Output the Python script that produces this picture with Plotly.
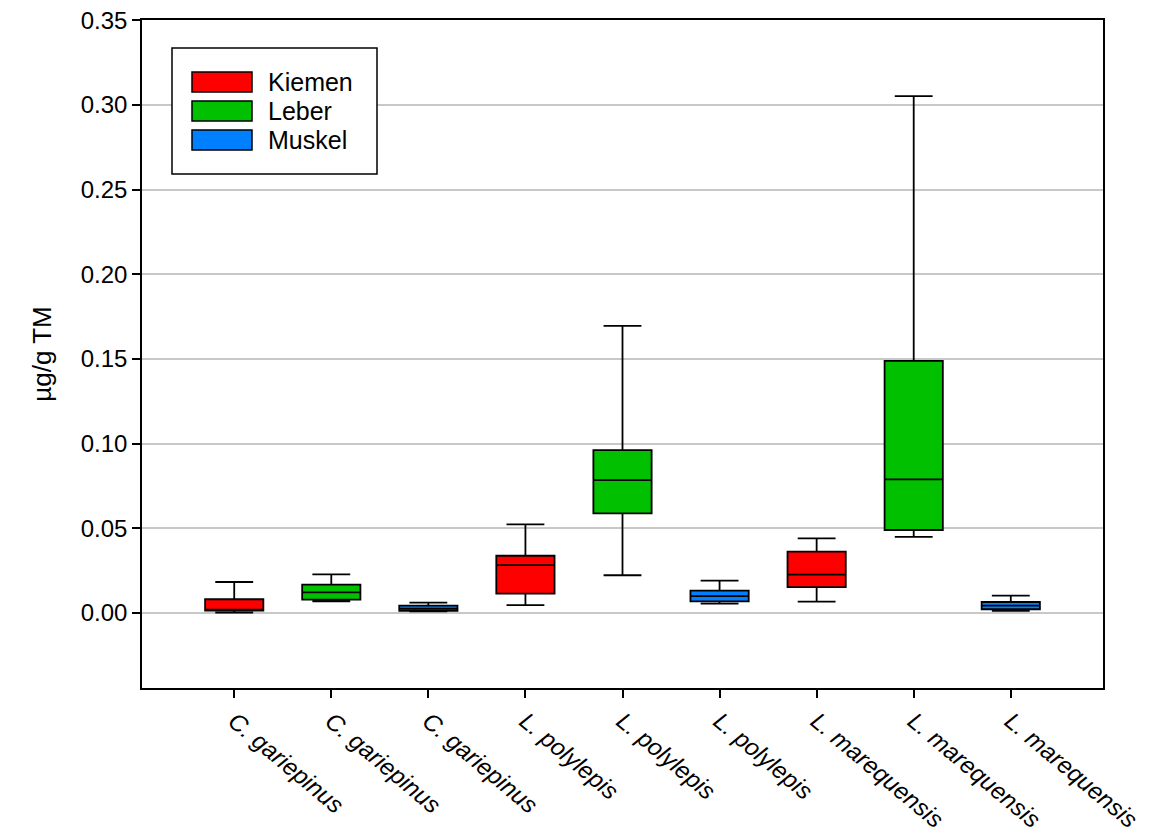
import plotly.graph_objects as go

categories = ["C. gariepinus", "C. gariepinus", "C. gariepinus",
              "L. polylepis", "L. polylepis", "L. polylepis",
              "L. marequensis", "L. marequensis", "L. marequensis"]
positions = [1, 2, 3, 4, 5, 6, 7, 8, 9]

series_names = ["Kiemen", "Leber", "Muskel"]
series_colors = ["#FF0000", "#00C000", "#0080FF"]
series_pos = [[1, 4, 7], [2, 5, 8], [3, 6, 9]]

kiemen_lower = [0.0002, 0.0047, 0.0067]
kiemen_q1 = [0.0014, 0.0114, 0.0153]
kiemen_med = [0.0020, 0.0283, 0.0226]
kiemen_q3 = [0.0081, 0.0338, 0.0362]
kiemen_upper = [0.0183, 0.0523, 0.0441]

leber_lower = [0.0069, 0.0223, 0.0450]
leber_q1 = [0.0079, 0.0588, 0.0490]
leber_med = [0.0122, 0.0785, 0.0789]
leber_q3 = [0.0167, 0.0962, 0.1489]
leber_upper = [0.0228, 0.1696, 0.3053]

muskel_lower = [0.0010, 0.0055, 0.0012]
muskel_q1 = [0.0012, 0.0069, 0.0022]
muskel_med = [0.0025, 0.0100, 0.0043]
muskel_q3 = [0.0043, 0.0132, 0.0065]
muskel_upper = [0.0061, 0.0191, 0.0102]

stats = [
    (kiemen_lower, kiemen_q1, kiemen_med, kiemen_q3, kiemen_upper),
    (leber_lower, leber_q1, leber_med, leber_q3, leber_upper),
    (muskel_lower, muskel_q1, muskel_med, muskel_q3, muskel_upper),
]

y_ticks = [0.00, 0.05, 0.10, 0.15, 0.20, 0.25, 0.30, 0.35]
y_ticktext = ["0.00", "0.05", "0.10", "0.15", "0.20", "0.25", "0.30", "0.35"]

FONT = "Liberation Sans, Arial, sans-serif"

W, H = 1154, 830
ML, MR, MT, MB = 134, 59, 12, 150
# page offset of the figure in the screenshot (body margin)
OFF = 8
PX0, PX1 = OFF + ML, OFF + W - MR
PY0, PY1 = OFF + MT, OFF + H - MB


def px_x(px):
    return (px - PX0) / (PX1 - PX0)


def px_y(py):
    return (PY1 - py) / (PY1 - PY0)


fig = go.Figure()
for name, color, pos, (lo, q1, med, q3, up) in zip(series_names, series_colors, series_pos, stats):
    fig.add_trace(go.Box(
        name=name,
        x=pos,
        lowerfence=lo, q1=q1, median=med, q3=q3, upperfence=up,
        fillcolor=color,
        line=dict(color="black", width=1.8),
        width=0.6,
        whiskerwidth=0.65,
        boxpoints=False,
        showlegend=False,
    ))

# manual legend (frame, swatches, labels)
shapes = [dict(type="rect", xref="paper", yref="paper",
               x0=px_x(172), x1=px_x(377), y0=px_y(174), y1=px_y(48),
               line=dict(color="black", width=1.5), fillcolor="white", layer="above")]
annotations = []
row_centers = [82, 111, 140]
for name, color, yc in zip(series_names, series_colors, row_centers):
    shapes.append(dict(type="rect", xref="paper", yref="paper",
                       x0=px_x(192), x1=px_x(252), y0=px_y(yc + 10), y1=px_y(yc - 10),
                       line=dict(color="black", width=1.5), fillcolor=color, layer="above"))
    annotations.append(dict(xref="paper", yref="paper", x=px_x(266), y=px_y(yc),
                            xanchor="left", yanchor="middle", showarrow=False,
                            text=name, font=dict(family=FONT, size=25, color="black")))

fig.update_layout(
    width=W, height=H,
    paper_bgcolor="white", plot_bgcolor="white",
    margin=dict(l=ML, r=MR, t=MT, b=MB, autoexpand=False),
    font=dict(family=FONT, size=24, color="black"),
    boxmode="overlay",
    showlegend=False,
    shapes=shapes,
    annotations=annotations,
    xaxis=dict(
        range=[0.05, 9.95],
        tickmode="array", tickvals=positions,
        ticktext=["<i>" + c + "</i>" for c in categories],
        tickangle=40,
        ticks="outside", ticklen=8, tickcolor="black", tickwidth=1.5,
        showline=True, linecolor="black", linewidth=1.5, mirror=True,
        showgrid=False, zeroline=False, automargin=False,
        ticklabeloverflow="allow",
        tickfont=dict(family=FONT, size=24),
    ),
    yaxis=dict(
        range=[-0.0443, 0.3502],
        tickmode="array", tickvals=y_ticks, ticktext=y_ticktext,
        ticks="outside", ticklen=8, tickcolor="black", tickwidth=1.5,
        showline=True, linecolor="black", linewidth=1.5, mirror=True,
        showgrid=True, gridcolor="#C8C8C8", gridwidth=1.5,
        zeroline=False, automargin=False,
        ticklabeloverflow="allow",
        title=dict(text="µg/g TM", font=dict(family=FONT, size=26), standoff=22),
        tickfont=dict(family=FONT, size=24),
    ),
)

fig.write_html("out.html")
